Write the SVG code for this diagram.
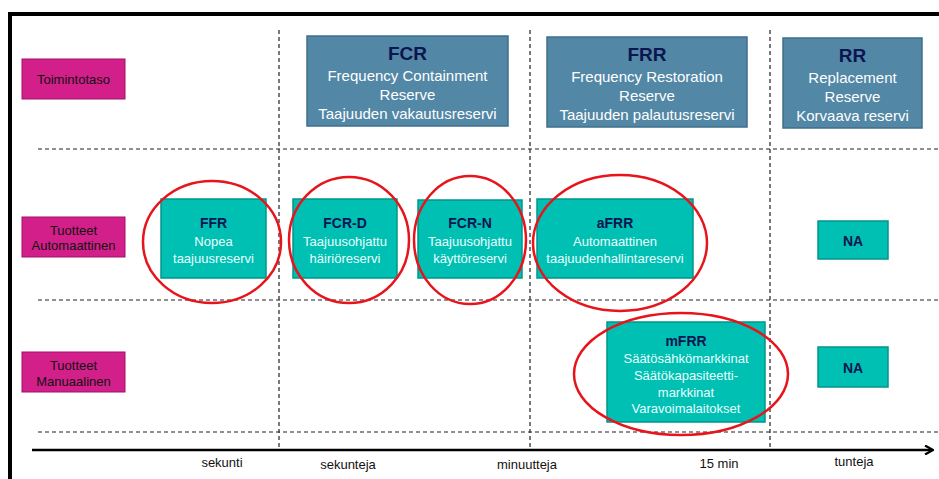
<svg xmlns="http://www.w3.org/2000/svg" width="939" height="479" viewBox="0 0 939 479">
<style>
text{font-family:"Liberation Sans",Arial,sans-serif;text-anchor:middle}
.grid{stroke:#222;stroke-width:1.2;stroke-dasharray:4 3;fill:none}
.lab{fill:#d21f8a;stroke:#a0106a;stroke-width:1}
.labt{font-size:13px;fill:#111}
.cat{fill:#5287a6;stroke:#3f6f8c;stroke-width:1.5}
.cath{font-size:19px;font-weight:bold;fill:#0b1650}
.catt{font-size:15px;fill:#ffffff}
.prod{fill:#00bfb3;stroke:#00968c;stroke-width:1.5}
.ph{font-size:14px;font-weight:bold;fill:#0b1650}
.pt{font-size:13px;fill:#e8ffff}
.ring{fill:none;stroke:#e8141c;stroke-width:2.5}
.ax{font-size:13px;fill:#111}
</style>
<defs>
<marker id="arr" markerWidth="10" markerHeight="10" refX="8" refY="5" orient="auto" markerUnits="userSpaceOnUse">
<path d="M1,0.5 L9,5 L1,9.5" fill="none" stroke="#000" stroke-width="2.2"/>
</marker>
</defs>
<rect width="939" height="479" fill="#fff"/>
<path d="M10,479 V14 H939" fill="none" stroke="#000" stroke-width="4"/>
<g id="connectors">
<line class="grid" x1="38" y1="149" x2="939" y2="149"/>
<line class="grid" x1="38" y1="300" x2="939" y2="300"/>
<line class="grid" x1="38" y1="432" x2="939" y2="432"/>
<line class="grid" x1="279" y1="30" x2="279" y2="450"/>
<line class="grid" x1="530" y1="30" x2="530" y2="450"/>
<line class="grid" x1="770" y1="30" x2="770" y2="450"/>
<line x1="32" y1="450" x2="932" y2="450" stroke="#000" stroke-width="2.5" marker-end="url(#arr)"/>
</g>
<g id="toimintotaso"><rect class="lab" x="22" y="59" width="103" height="40"/><text class="labt" x="73.5" y="84">Toimintotaso</text></g>
<g id="tuotteet-auto"><rect class="lab" x="22" y="217" width="103" height="40"/><text class="labt" x="73.5" y="235">Tuotteet</text><text class="labt" x="73.5" y="250">Automaattinen</text></g>
<g id="tuotteet-manu"><rect class="lab" x="22" y="352" width="103" height="40"/><text class="labt" x="73.5" y="370">Tuotteet</text><text class="labt" x="73.5" y="386">Manuaalinen</text></g>

<g id="fcr"><rect class="cat" x="307" y="36" width="201" height="90"/>
<text class="cath" x="407.5" y="60">FCR</text>
<text class="catt" x="407.5" y="81">Frequency Containment</text>
<text class="catt" x="407.5" y="100">Reserve</text>
<text class="catt" x="407.5" y="119">Taajuuden vakautusreservi</text></g>
<g id="frr"><rect class="cat" x="547" y="37" width="200" height="90"/>
<text class="cath" x="647" y="61">FRR</text>
<text class="catt" x="647" y="82">Frequency Restoration</text>
<text class="catt" x="647" y="101">Reserve</text>
<text class="catt" x="647" y="120">Taajuuden palautusreservi</text></g>
<g id="rr"><rect class="cat" x="783" y="38" width="139" height="90"/>
<text class="cath" x="852.5" y="62">RR</text>
<text class="catt" x="852.5" y="83">Replacement</text>
<text class="catt" x="852.5" y="102">Reserve</text>
<text class="catt" x="852.5" y="121">Korvaava reservi</text></g>

<g id="ffr"><rect class="prod" x="161" y="199" width="105" height="79"/>
<text class="ph" x="213.5" y="228">FFR</text>
<text class="pt" x="213.5" y="246">Nopea</text>
<text class="pt" x="213.5" y="263">taajuusreservi</text>
<ellipse class="ring" cx="212" cy="242" rx="69" ry="61"/></g>
<g id="fcr-d"><rect class="prod" x="293" y="199" width="104" height="79"/>
<text class="ph" x="345" y="228">FCR-D</text>
<text class="pt" x="345" y="246">Taajuusohjattu</text>
<text class="pt" x="345" y="263">häiriöreservi</text>
<ellipse class="ring" cx="349" cy="240" rx="60" ry="63"/></g>
<g id="fcr-n"><rect class="prod" x="418" y="200" width="104" height="78"/>
<text class="ph" x="470" y="228">FCR-N</text>
<text class="pt" x="470" y="246">Taajuusohjattu</text>
<text class="pt" x="470" y="263">käyttöreservi</text>
<ellipse class="ring" cx="470" cy="240" rx="56" ry="64"/></g>
<g id="afrr"><rect class="prod" x="537" y="199" width="156" height="79"/>
<text class="ph" x="615" y="228">aFRR</text>
<text class="pt" x="615" y="246">Automaattinen</text>
<text class="pt" x="615" y="263">taajuudenhallintareservi</text>
<ellipse class="ring" cx="620" cy="243" rx="87" ry="68"/></g>
<g id="na1"><rect class="prod" x="818" y="221" width="70" height="38"/>
<text class="ph" x="853" y="246">NA</text></g>
<g id="mfrr"><rect class="prod" x="607" y="322" width="158" height="100"/>
<text class="ph" x="686" y="346">mFRR</text>
<text class="pt" x="686" y="363">Säätösähkömarkkinat</text>
<text class="pt" x="686" y="380">Säätökapasiteetti-</text>
<text class="pt" x="686" y="397">markkinat</text>
<text class="pt" x="686" y="413">Varavoimalaitokset</text>
<ellipse class="ring" cx="681" cy="374" rx="107" ry="61"/></g>
<g id="na2"><rect class="prod" x="818" y="347" width="70" height="40"/>
<text class="ph" x="853" y="373">NA</text></g>

<g id="axis-labels">
<text class="ax" x="222" y="467">sekunti</text>
<text class="ax" x="348" y="469">sekunteja</text>
<text class="ax" x="527" y="469">minuutteja</text>
<text class="ax" x="719" y="468">15 min</text>
<text class="ax" x="854" y="466">tunteja</text>
</g>
</svg>
